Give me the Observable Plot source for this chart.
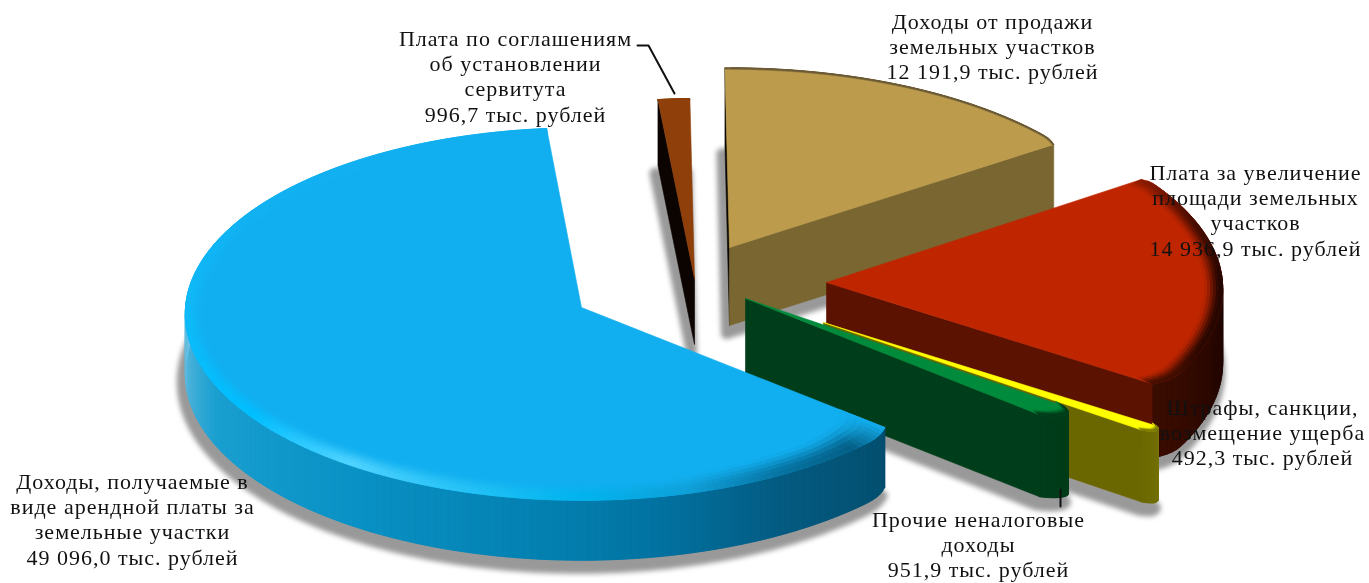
<!DOCTYPE html>
<html><head><meta charset="utf-8">
<style>html,body{margin:0;padding:0;background:#fff;overflow:hidden}svg{display:block}
.lbl{filter:blur(.3px)}.lbl text{letter-spacing:1px}.shad{filter:blur(2.5px)}.poly{filter:blur(.5px)}</style>
<script src="https://cdn.jsdelivr.net/npm/d3@7"></script>
<script src="https://cdn.jsdelivr.net/npm/@observablehq/plot@0.6"></script>
</head><body><div id="chart"></div>
<script>
// ---- chart values, clockwise order as drawn ----
const categories = [
  "Доходы, получаемые в\nвиде арендной платы за\nземельные участки",
  "Плата по соглашениям\nоб установлении\nсервитута",
  "Доходы от продажи\nземельных участков",
  "Плата за увеличение\nплощади земельных\nучастков",
  "Штрафы, санкции,\nвозмещение ущерба",
  "Прочие неналоговые\nдоходы"
];
const values = [49096.0, 996.7, 12191.9, 14936.9, 492.3, 951.9];
const valueLabels = ["49 096,0 тыс. рублей","996,7 тыс. рублей","12 191,9 тыс. рублей","14 936,9 тыс. рублей","492,3 тыс. рублей","951,9 тыс. рублей"];

// ---- layout of the exploded 3D pie ----
const startAngle = -229.9, rx = 396, ry = 186, persp = 0.035;
const apexX = [581, 694, 729, 826, 823, 745];
const apexY = [307, 278, 247, 282, 322, 298];
const widen = [1, 1.05, 1.03, 1, 1, 1];
const depth = [60, 66, 78, 74, 72, 82];
const topColor = ["#12aff0","#8f3f0a","#bc9c4c","#bf2600","#ffff00","#008a3c"];
const faceColor = ["#034e6e","#0c0400","#7a6631","#5c1200","#6b6700","#003d1a"];
const startFace = ["#034e6e","#0c0400","#0c0800","#5c1200","#6b6700","#003d1a"];
const bevelX = [17, 1, 2, 18, 5, 10];
const bevelY = [16, 1, 2, 12, 5, 8];
const bevelGrow = [.7, 0, 0, 0, 0, 0];
const roundStart = [[.02,5],[0,1],[0,1],[.012,2],[.01,.6],[.03,1.6]];
const roundEnd = [[0,1],[0,1],[.012,3],[.03,5],[.03,1.1],[.05,3]];
const rimStops = [
  [[-230,-227,-222,-210,-195,-180,-145,-125,-90,-60,-30],["#12aff0","#1090c4","#055f86","#0772a0","#10a0d8","#00b4ee","#4fd2ff","#00bfff","#10baf8","#12b2f2","#12aff0"]],
  [[-6,0],["#8f3f0a","#8f3f0a"]],
  [[0,56],["#6b5a38","#6b5a38"]],
  [[55,70,90,110,124],["#8a1c00","#4a0e00","#240600","#2a0800","#4a1000"]],
  [[123,126],["#7c7a00","#7c7a00"]],
  [[125,131],["#003d1a","#003d1a"]]
];
const sideStops = [
  [[-230,-210,-190,-175,-145,-115,-95,-80],["#034e6e","#045a80","#0273a2","#0380b0","#0a92c6","#1a9fd0","#5ab8dc","#70c4e4"]],
  [[-6,0],["#0c0400","#0c0400"]],
  [[0,56],["#7a6631","#7a6631"]],
  [[80,95,124],["#200500","#200500","#3a0c00"]],
  [[123,126],["#7c7a10","#6b6700"]],
  [[125,131],["#003d1a","#003d1a"]]
];

// ---- geometry derived from the values ----
const rad = d => d * Math.PI / 180;
const total = d3.sum(values);
let cum = startAngle;
const slices = values.map((v, i) => {
  const a0 = cum; cum += v / total * 360;
  return {i, a0, a1: cum, span: cum - a0};
});
function project(i, a, fx, fy, dz = 0) {
  const u = Math.sin(rad(a)), w = -Math.cos(rad(a));
  const s = 1 / (1 - persp * w * fy);
  return [apexX[i] + rx * widen[i] * fx * u * s, apexY[i] + ry * fy * w * s + dz];
}
function outer(s, a) {
  const [c0, w0] = roundStart[s.i], [c1, w1] = roundEnd[s.i];
  const d0 = Math.max(0, 1 - (a - s.a0) / w0), d1 = Math.max(0, 1 - (s.a1 - a) / w1);
  return 1 - c0 * d0 * d0 - c1 * d1 * d1;
}
function angles(s, step) {
  const n = Math.max(24, Math.ceil(s.span / step));
  return d3.range(n + 1).map(k => s.a0 + s.span * k / n);
}
const apex = (i, dz = 0) => [apexX[i], apexY[i] + dz];

const shadowPts = [], polyPts = [];
let pid = 0;
function addPoly(target, pts, color) {
  const id = pid++;
  for (const [x, y] of [...pts, pts[0]]) target.push({id, x, y, color});
}
const drawOrder = [1, 2, 3, 4, 5, 0];
for (const i of drawOrder) {
  const s = slices[i], d = depth[i];
  const as = angles(s, 1);
  const arc = as.map(a => { const r = outer(s, a); return project(i, a, r, r); });
  // floor shadow
  addPoly(shadowPts, [[apexX[i] - 3, apexY[i] + d + 8], ...arc.map(([x, y]) => [x - 3, y + d + 8])], "#999999");
  // radial faces
  if (Math.sin(rad(s.a0)) < 0) {
    const p = arc[0];
    addPoly(polyPts, [apex(i), p, [p[0], p[1] + d], apex(i, d)], startFace[i]);
  }
  if (Math.sin(rad(s.a1)) > 0) {
    const p = arc[arc.length - 1];
    addPoly(polyPts, [apex(i), p, [p[0], p[1] + d], apex(i, d)], faceColor[i]);
  }
  // outer side: each quad overlaps the next so no background shows through the seams
  const side = d3.scaleLinear().domain(sideStops[i][0]).range(sideStops[i][1]).clamp(true);
  for (let k = 0; k < as.length - 1; k++) {
    if (-Math.cos(rad(as[k])) < -0.17 && -Math.cos(rad(as[k + 1])) < -0.17) continue;
    const p = arc[k], q = arc[Math.min(k + 2, as.length - 1)];
    addPoly(polyPts, [p, q, [q[0], q[1] + d], [p[0], p[1] + d]], side((as[k] + as[k + 1]) / 2));
  }
  // top surface
  addPoly(polyPts, [apex(i), ...arc], topColor[i]);
  // bevel along the outer edge
  const rim = d3.scaleLinear().domain(rimStops[i][0]).range(rimStops[i][1]).clamp(true);
  const grow = a => 1 + bevelGrow[i] * Math.max(0, 1 - (a - s.a0) / 40);
  // where a slice's bevel widens, its inset stays on the radial edge so it cannot poke outside the wedge
  const insetX = a => {
    const plain = bevelX[i] / rx;
    if (!bevelGrow[i]) return plain;
    const e = Math.min(1, (a - s.a0) / 15);
    return e * plain + (1 - e) * bevelY[i] * grow(a) / ry;
  };
  const steps = 6;
  for (let t = 0; t < steps; t++) {
    const t0 = 1 - t / steps, t1 = 1 - (t + 1) / steps;
    const mix = (t + 1) / steps;
    for (let k = 0; k < as.length - 1; k++) {
      const a = as[k], b = as[Math.min(k + 2, as.length - 1)];
      const ra = outer(s, a), rb = outer(s, b);
      const fx = (r, f, q) => r * (1 - f * insetX(q)), fy = (r, f, q) => r * (1 - f * bevelY[i] * grow(q) / ry);
      const col = d3.interpolateRgb(topColor[i], rim((as[k] + as[k + 1]) / 2))(mix * mix * (3 - 2 * mix));
      addPoly(polyPts, [project(i, a, fx(ra, t0, a), fy(ra, t0, a)), project(i, b, fx(rb, t0, b), fy(rb, t0, b)),
                        project(i, b, fx(rb, t1, b), fy(rb, t1, b)), project(i, a, fx(ra, t1, a), fy(ra, t1, a))], col);
    }
  }
}

// ---- labels ----
const labelX = [132, 515, 992, 1255, 1262, 978];
const labelTop = [481, 38, 21, 172, 407, 519];
const labels = categories.map((c, i) => ({x: labelX[i], y: labelTop[i] , text: c + "\n" + valueLabels[i]}));
const leaders = [
  {id: 0, x: 637, y: 45}, {id: 0, x: 648, y: 45}, {id: 0, x: 674, y: 93},
  {id: 1, x: 1060, y: 489}, {id: 1, x: 1060, y: 506}
];

const chart = Plot.plot({
  width: 1369, height: 583, margin: 0,
  style: {background: "#fff"},
  x: {domain: [0, 1369], axis: null},
  y: {domain: [583, 0], axis: null},
  color: {type: "identity"},
  marks: [
    Plot.line(shadowPts, {x: "x", y: "y", z: "id", fill: "color", stroke: "color", strokeWidth: 11, className: "shad"}),
    Plot.line(polyPts, {x: "x", y: "y", z: "id", fill: "color", stroke: "color", strokeWidth: 0.6, strokeLinejoin: "round", className: "poly"}),
    Plot.line(leaders, {x: "x", y: "y", z: "id", stroke: "#111", strokeWidth: 2}),
    Plot.text(labels, {x: "x", y: "y", text: "text", lineAnchor: "top", dy: -11, lineHeight: 1.155, fontSize: 22,
      fontFamily: "'Liberation Serif', serif", fill: "#111", textAnchor: "middle", className: "lbl"})
  ]
});
document.getElementById("chart").append(chart);
</script></body></html>
